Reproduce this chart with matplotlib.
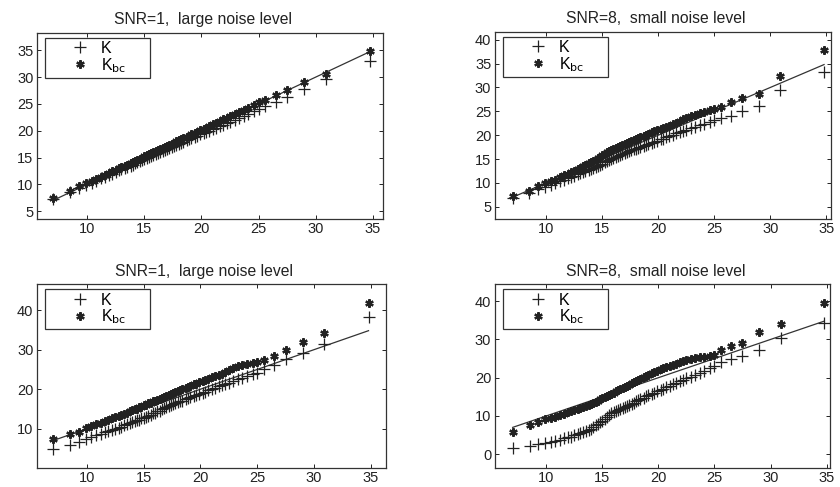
import matplotlib
matplotlib.use("Agg")
import matplotlib.pyplot as plt
from matplotlib.lines import Line2D
from matplotlib.legend_handler import HandlerLine2D

plt.rcParams['font.family'] = ['Liberation Sans', 'DejaVu Sans']

# theoretical quantiles (shared x axis)
x = [7.0, 8.5, 9.3, 9.9, 10.4, 10.8, 11.2, 11.6, 11.9, 12.2, 12.5, 12.8, 13.0, 13.3,
     13.5, 13.8, 14.0, 14.2, 14.4, 14.6, 14.8, 15.0, 15.2, 15.4, 15.6, 15.8, 16.0,
     16.2, 16.4, 16.6, 16.8, 17.0, 17.2, 17.4, 17.6, 17.8, 18.0, 18.2, 18.4, 18.7,
     18.9, 19.1, 19.4, 19.6, 19.9, 20.2, 20.4, 20.7, 21.0, 21.3, 21.6, 21.9, 22.2,
     22.5, 22.9, 23.3, 23.7, 24.1, 24.6, 25.0, 25.6, 26.5, 27.5, 29.0, 30.9, 34.8]

# SNR=1, top
k_1a = [7.2, 8.6, 9.3, 9.8, 10.3, 10.7, 11.1, 11.4, 11.7, 12.0, 12.3, 12.6, 12.8, 13.1,
        13.3, 13.5, 13.7, 13.9, 14.1, 14.3, 14.5, 14.7, 14.9, 15.1, 15.3, 15.5, 15.7,
        15.9, 16.0, 16.2, 16.4, 16.6, 16.8, 17.0, 17.2, 17.4, 17.6, 17.7, 17.9, 18.2,
        18.4, 18.6, 18.9, 19.0, 19.3, 19.6, 19.8, 20.0, 20.3, 20.6, 20.8, 21.1, 21.4,
        21.7, 22.0, 22.4, 22.8, 23.1, 23.6, 24.0, 24.6, 25.4, 26.2, 27.8, 29.6, 33.0]
kbc_1a = [7.4, 8.8, 9.6, 10.2, 10.6, 11.0, 11.4, 11.8, 12.1, 12.4, 12.7, 13.0, 13.2, 13.5,
          13.7, 14.0, 14.2, 14.4, 14.6, 14.8, 15.0, 15.2, 15.4, 15.6, 15.8, 16.0, 16.2,
          16.4, 16.6, 16.8, 17.0, 17.2, 17.4, 17.6, 17.8, 18.0, 18.2, 18.4, 18.6, 18.9,
          19.1, 19.3, 19.6, 19.8, 20.1, 20.4, 20.6, 20.9, 21.2, 21.5, 21.8, 22.1, 22.4,
          22.7, 23.1, 23.5, 23.9, 24.3, 24.8, 25.3, 25.8, 26.6, 27.6, 29.1, 30.6, 34.9]

# SNR=8, top
k_8a = [6.8, 7.9, 8.7, 9.2, 9.6, 10.0, 10.4, 10.7, 11.0, 11.3, 11.5, 11.8, 12.0, 12.3,
        12.5, 12.8, 13.0, 13.2, 13.4, 13.6, 13.8, 14.0, 14.3, 14.6, 14.9, 15.1, 15.3,
        15.5, 15.7, 15.9, 16.1, 16.3, 16.5, 16.6, 16.8, 17.0, 17.2, 17.3, 17.5, 17.8,
        17.9, 18.1, 18.4, 18.6, 18.8, 19.1, 19.3, 19.6, 19.8, 20.1, 20.4, 20.6, 20.9,
        21.1, 21.5, 21.8, 22.1, 22.4, 22.8, 23.2, 23.6, 24.1, 25.0, 26.2, 29.5, 33.3]
kbc_8a = [7.3, 8.4, 9.3, 9.9, 10.3, 10.7, 11.2, 11.6, 11.9, 12.2, 12.5, 12.9, 13.1, 13.5,
          13.7, 14.1, 14.4, 14.6, 14.9, 15.2, 15.5, 15.8, 16.1, 16.4, 16.7, 16.9, 17.2,
          17.4, 17.6, 17.8, 18.0, 18.2, 18.4, 18.6, 18.8, 19.0, 19.2, 19.4, 19.6, 19.9,
          20.1, 20.3, 20.6, 20.8, 21.1, 21.3, 21.5, 21.8, 22.0, 22.3, 22.6, 22.9, 23.3,
          23.6, 24.0, 24.3, 24.6, 24.9, 25.2, 25.5, 26.0, 27.0, 27.8, 28.6, 32.4, 37.8]

# SNR=1, bottom
k_1b = [4.8, 5.8, 6.6, 7.5, 7.9, 8.3, 8.7, 9.1, 9.4, 9.7, 10.0, 10.3, 10.5, 10.9,
        11.1, 11.5, 11.7, 11.9, 12.1, 12.3, 12.6, 12.8, 13.0, 13.3, 13.6, 13.9, 14.1,
        14.4, 14.6, 14.9, 15.2, 15.4, 15.7, 15.9, 16.2, 16.4, 16.7, 16.9, 17.1, 17.5,
        17.8, 18.0, 18.3, 18.5, 18.8, 19.1, 19.4, 19.7, 20.0, 20.4, 20.7, 21.0, 21.3,
        21.6, 22.1, 22.5, 22.9, 23.3, 23.8, 24.2, 25.0, 26.0, 27.6, 29.1, 31.5, 38.2]
kbc_1b = [7.5, 8.8, 9.2, 10.2, 10.6, 11.1, 11.5, 11.9, 12.2, 12.6, 12.9, 13.2, 13.5, 13.8,
          14.1, 14.4, 14.7, 14.9, 15.1, 15.4, 15.6, 15.9, 16.1, 16.4, 16.6, 16.9, 17.1,
          17.3, 17.6, 17.8, 18.1, 18.3, 18.5, 18.8, 19.0, 19.3, 19.5, 19.8, 20.0, 20.3,
          20.6, 20.8, 21.2, 21.4, 21.7, 22.0, 22.3, 22.6, 23.0, 23.3, 23.6, 23.9, 24.3,
          24.8, 25.3, 25.8, 26.2, 26.4, 26.6, 26.9, 27.5, 28.5, 29.8, 32.0, 34.3, 41.8]

# SNR=8, bottom
k_8b = [1.5, 2.0, 2.6, 2.9, 3.2, 3.5, 3.8, 4.1, 4.4, 4.6, 4.9, 5.2, 5.4, 5.8,
        6.0, 6.4, 6.7, 7.1, 7.5, 7.9, 8.3, 8.6, 9.1, 9.6, 10.2, 10.7, 11.0,
        11.2, 11.5, 11.8, 12.1, 12.3, 12.6, 12.9, 13.2, 13.5, 13.8, 14.1, 14.4, 14.8,
        15.1, 15.4, 15.8, 16.1, 16.4, 16.8, 17.1, 17.5, 17.9, 18.3, 18.7, 19.1, 19.5,
        19.8, 20.3, 20.8, 21.3, 21.8, 22.5, 23.1, 24.0, 25.0, 25.7, 27.2, 30.3, 34.2]
kbc_8b = [5.8, 7.5, 8.5, 9.1, 9.5, 9.8, 10.2, 10.6, 11.0, 11.3, 11.6, 11.9, 12.1, 12.4,
          12.6, 12.9, 13.1, 13.4, 13.7, 14.0, 14.3, 14.6, 14.9, 15.2, 15.5, 15.8, 16.1,
          16.4, 16.7, 17.0, 17.3, 17.6, 17.9, 18.2, 18.5, 18.8, 19.1, 19.4, 19.7, 20.2,
          20.5, 20.8, 21.2, 21.5, 21.8, 22.2, 22.5, 22.8, 23.1, 23.4, 23.7, 24.0, 24.3,
          24.5, 24.8, 25.1, 25.3, 25.5, 25.7, 25.9, 27.2, 28.3, 29.0, 32.0, 34.0, 39.6]

ref_x = [7.0, 34.8]

titles = ["SNR=1,  large noise level", "SNR=8,  small noise level",
          "SNR=1,  large noise level", "SNR=8,  small noise level"]
series = [(k_1a, kbc_1a), (k_8a, kbc_8a), (k_1b, kbc_1b), (k_8b, kbc_8b)]
ylims = [(3.6, 38.3), (2.5, 41.7), (0.2, 46.5), (-3.5, 44.4)]
xlims = [(5.6, 35.9), (5.4, 35.4), (5.6, 36.3), (5.4, 35.3)]
yticks = [[5, 10, 15, 20, 25, 30, 35], [5, 10, 15, 20, 25, 30, 35, 40],
          [10, 20, 30, 40], [0, 10, 20, 30, 40]]
# left, bottom, width, height
boxes = [[0.044, 0.551, 0.412, 0.382], [0.589, 0.551, 0.400, 0.384],
         [0.044, 0.040, 0.415, 0.376], [0.589, 0.040, 0.399, 0.376]]

fig = plt.figure(figsize=(8.4, 4.87), dpi=100)
c = "#222222"
for i in range(4):
  ax = fig.add_axes(boxes[i])
  k, kbc = series[i]
  ax.plot(ref_x, ref_x, '-', color="#333333", linewidth=0.9)
  ax.plot(x, k, '+', color=c, markersize=8, markeredgewidth=0.9, label="K")
  ax.plot(x, kbc, linestyle='none', marker=(6, 2, 0), color=c, markersize=6,
          markeredgewidth=1.6, label="K$_{\\mathrm{bc}}$")
  ax.set_xlim(xlims[i])
  ax.set_ylim(ylims[i])
  ax.set_xticks([10, 15, 20, 25, 30, 35])
  ax.set_yticks(yticks[i])
  ax.tick_params(direction='in', top=True, right=True, length=3, width=0.7,
                 labelsize=10.5, colors="#222222", pad=2.5)
  for s in ax.spines.values():
    s.set_color("#333333")
    s.set_linewidth(0.9)
  ax.set_title(titles[i], fontsize=11.3, pad=6, color="#222222", x=0.48)

  # legend box about 105 px wide, 8 px in from the left spine
  w_px = boxes[i][2] * 840
  h_px = boxes[i][3] * 487
  leg = ax.legend(loc='upper left', fontsize=11.5, fancybox=False, framealpha=1,
                  edgecolor="#333333", borderpad=0.2, labelspacing=0.0,
                  handletextpad=0.5, handlelength=2.8, borderaxespad=0.0,
                  mode='expand',
                  bbox_to_anchor=(8 / w_px, 0, 105 / w_px, 1 - 5 / h_px),
                  handler_map={Line2D: HandlerLine2D(xpad=1.2)})
  leg.get_frame().set_linewidth(0.9)

plt.savefig("out.png", dpi=100)
plt.close()
